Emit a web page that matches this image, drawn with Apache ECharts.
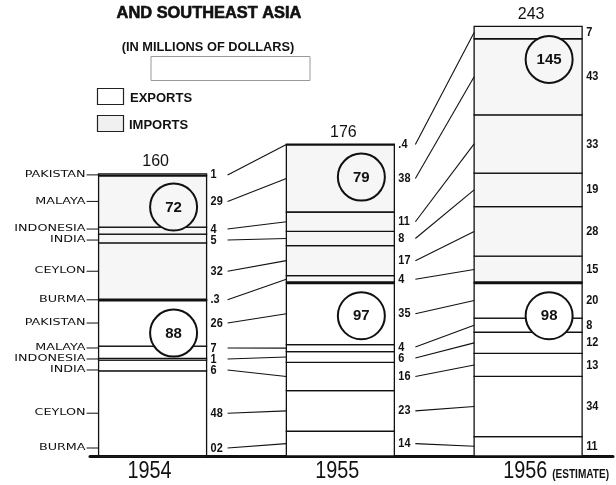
<!DOCTYPE html>
<html><head><meta charset="utf-8">
<script src="https://cdn.jsdelivr.net/npm/echarts@6/dist/echarts.min.js"></script>
<style>html,body{margin:0;padding:0;background:#fff}#c{width:616px;height:485px}</style>
</head><body><div id="c"></div>
<script>
// ---- data (millions of dollars) ----
const years = ['1954', '1955', '1956'];
const estimateNote = '(ESTIMATE)';
const countries = ['BURMA', 'CEYLON', 'INDIA', 'INDONESIA', 'MALAYA', 'PAKISTAN'];
// order bottom -> top: Burma, Ceylon, India, Indonesia, Malaya, Pakistan
const exports1954 = [0.2, 48, 6, 1, 7, 26];
const imports1954 = [0.3, 32, 5, 4, 29, 1];
const exports1955 = [14, 23, 16, 6, 4, 35];
const imports1955 = [4, 17, 8, 11, 38, 0.4];
const exports1956 = [11, 34, 13, 12, 8, 20];
const imports1956 = [15, 28, 19, 33, 43, 7];
const exportLabels1954 = ['02', '48', '6', '1', '7', '26'];
const importLabels1954 = ['.3', '32', '5', '4', '29', '1'];
const exportLabels1955 = ['14', '23', '16', '6', '4', '35'];
const importLabels1955 = ['4', '17', '8', '11', '38', '.4'];
const exportLabels1956 = ['11', '34', '13', '12', '8', '20'];
const importLabels1956 = ['15', '28', '19', '33', '43', '7'];
const totals = [160, 176, 243];
const exportTotals = [88, 97, 98];
const importTotals = [72, 79, 145];

const exportsByYear = [exports1954, exports1955, exports1956];
const importsByYear = [imports1954, imports1955, imports1956];
const labelsByYear = [
  exportLabels1954.concat(importLabels1954),
  exportLabels1955.concat(importLabels1955),
  exportLabels1956.concat(importLabels1956)
];

const BAR_W = 108;
const INK = '#111';
const EXPORT_FILL = '#ffffff';
const IMPORT_FILL = '#f6f6f6';
const NUM_FONT = 'bold 13px "Liberation Sans", sans-serif';

function segmentsOf(i) {
  const out = []; let acc = 0;
  exportsByYear[i].forEach((v, k) => { out.push({ s: acc, e: acc + v, flow: 0, k }); acc += v; });
  const exTop = acc;
  importsByYear[i].forEach((v, k) => { out.push({ s: acc, e: acc + v, flow: 1, k }); acc += v; });
  return { segs: out, exTop, top: acc };
}

const segData = [];
years.forEach((y, i) => segmentsOf(i).segs.forEach(sg => segData.push([i, sg.s, sg.e, sg.flow])));

function spread(ys, gap, maxY) {
  const pos = ys.slice();
  for (let it = 0; it < 600; it++) {
    let moved = false;
    if (pos[0] > maxY) { pos[0] = maxY; moved = true; }
    for (let k = 0; k < pos.length - 1; k++) {
      const d = pos[k] - pos[k + 1];
      if (d < gap - 0.01) { const s = (gap - d) / 2; pos[k] += s; pos[k + 1] -= s; moved = true; }
    }
    if (!moved) break;
  }
  return pos;
}

function txt(x, y, text, font, align, valign, extra) {
  return Object.assign({
    type: 'text', x: x, y: y,
    style: { text: text, font: font, fill: INK, textAlign: align, textVerticalAlign: valign, align: align, verticalAlign: valign }
  }, extra || {});
}

const chart = echarts.init(document.getElementById('c'), null, { renderer: 'canvas' });
chart.setOption({
  animation: false,
  backgroundColor: '#fff',
  grid: { left: 90, right: 3, top: 14, bottom: 29 },
  xAxis: {
    type: 'value', min: -1 / 3, max: 2.452,
    axisLine: { show: true, lineStyle: { color: INK, width: 3 } },
    axisTick: { show: false }, axisLabel: { show: false }, splitLine: { show: false }
  },
  yAxis: { type: 'value', min: 0, max: 250, show: false, splitLine: { show: false } },
  graphic: [
    { type: 'text', x: 209, y: 13, style: { text: 'AND SOUTHEAST ASIA', font: 'bold 16.4px "Liberation Sans", sans-serif', fill: INK, stroke: INK, lineWidth: 0.6, textAlign: 'center', textVerticalAlign: 'middle' } },
    { type: 'text', x: 208, y: 47.5, style: { text: '(IN MILLIONS OF DOLLARS)', font: 'bold 12.8px "Liberation Sans", sans-serif', fill: INK, textAlign: 'center', textVerticalAlign: 'middle' } },
    { type: 'rect', shape: { x: 151, y: 56.5, width: 159, height: 24 }, style: { fill: 'none', stroke: '#999', lineWidth: 1 } },
    { type: 'rect', shape: { x: 97.5, y: 88.5, width: 26, height: 16 }, style: { fill: EXPORT_FILL, stroke: '#222', lineWidth: 1.2 } },
    { type: 'text', x: 130, y: 98, style: { text: 'EXPORTS', font: 'bold 13px "Liberation Sans", sans-serif', fill: INK, textAlign: 'left', textVerticalAlign: 'middle' } },
    { type: 'rect', shape: { x: 97.5, y: 115.5, width: 26, height: 16 }, style: { fill: '#f0f0f0', stroke: '#222', lineWidth: 1.2 } },
    { type: 'text', x: 129, y: 125, style: { text: 'IMPORTS', font: 'bold 13px "Liberation Sans", sans-serif', fill: INK, textAlign: 'left', textVerticalAlign: 'middle' } }
  ],
  series: [
    {
      type: 'custom', name: 'segments', data: segData, z: 2,
      encode: { x: 0, y: [1, 2] },
      renderItem: function (params, api) {
        const x = api.value(0), s = api.value(1), e = api.value(2), flow = api.value(3);
        const pT = api.coord([x, e]), pB = api.coord([x, s]);
        return {
          type: 'rect',
          shape: { x: pT[0] - BAR_W / 2, y: pT[1], width: BAR_W, height: Math.max(pB[1] - pT[1], 0.5) },
          style: { fill: flow ? IMPORT_FILL : EXPORT_FILL, stroke: INK, lineWidth: 1.3 }
        };
      }
    },
    {
      type: 'custom', name: 'annotations', data: years.map((y, i) => [i, totals[i]]), z: 3,
      encode: { x: 0, y: 1 },
      renderItem: function (params, api) {
        const i = api.value(0);
        const info = segmentsOf(i);
        const base = api.coord([i, 0]);
        const cx = base[0], baseY = base[1];
        const left = cx - BAR_W / 2, right = cx + BAR_W / 2;
        const mids = info.segs.map(sg => api.coord([i, (sg.s + sg.e) / 2])[1]);
        const ly = spread(mids, 11, baseY - 8);
        const children = [];
        const labelX = right + 4;
        info.segs.forEach((sg, k) => {
          children.push(txt(labelX, ly[k], labelsByYear[i][k], NUM_FONT, 'left', 'middle', { scaleX: 0.84 }));
        });
        if (i < years.length - 1) {
          const nxt = segmentsOf(i + 1);
          const ncx = api.coord([i + 1, 0])[0];
          info.segs.forEach((sg, k) => {
            const t = nxt.segs[k];
            const ty = api.coord([i + 1, (t.s + t.e) / 2])[1];
            children.push({ type: 'line', shape: { x1: labelX + 17, y1: ly[k], x2: ncx - BAR_W / 2, y2: ty }, style: { stroke: INK, lineWidth: 1.1 } });
          });
        }
        if (i === 0) {
          info.segs.forEach((sg, k) => {
            children.push(txt(left - 13, ly[k], countries[sg.k], '8.5px "DejaVu Sans", sans-serif', 'right', 'middle', { scaleX: 1.5 }));
            children.push({ type: 'line', shape: { x1: left - 12, y1: ly[k], x2: left, y2: ly[k] }, style: { stroke: INK, lineWidth: 1 } });
          });
        }
        // divider between exports and imports
        const dy = api.coord([i, info.exTop])[1];
        children.push({ type: 'line', shape: { x1: left, y1: dy, x2: right, y2: dy }, style: { stroke: INK, lineWidth: 3 } });
        // circles
        const topY = api.coord([i, info.top])[1];
        [[exportTotals[i], dy, EXPORT_FILL], [importTotals[i], topY, IMPORT_FILL]].forEach(c => {
          const ccx = cx + 21, ccy = c[1] + 33;
          children.push({ type: 'circle', shape: { cx: ccx, cy: ccy, r: 23.5 }, style: { fill: c[2], stroke: INK, lineWidth: 2 } });
          children.push(txt(ccx, ccy + 0.5, String(c[0]), 'bold 15px "Liberation Sans", sans-serif', 'center', 'middle'));
        });
        // total above bar
        const totY = api.coord([i, totals[i]])[1];
        children.push(txt(cx + 3, Math.min(totY, topY) - 4, String(totals[i]), '16px "Liberation Sans", sans-serif', 'center', 'bottom'));
        // year label
        children.push(txt(cx - 3, 471.5, years[i], '23px "Liberation Sans", sans-serif', 'center', 'middle', { scaleX: 0.86 }));
        if (i === years.length - 1) {
          children.push(txt(cx + 24, 475, estimateNote, 'bold 12px "Liberation Sans", sans-serif', 'left', 'middle', { scaleX: 0.84 }));
        }
        return { type: 'group', children: children };
      }
    }
  ]
});
</script>
</body></html>
